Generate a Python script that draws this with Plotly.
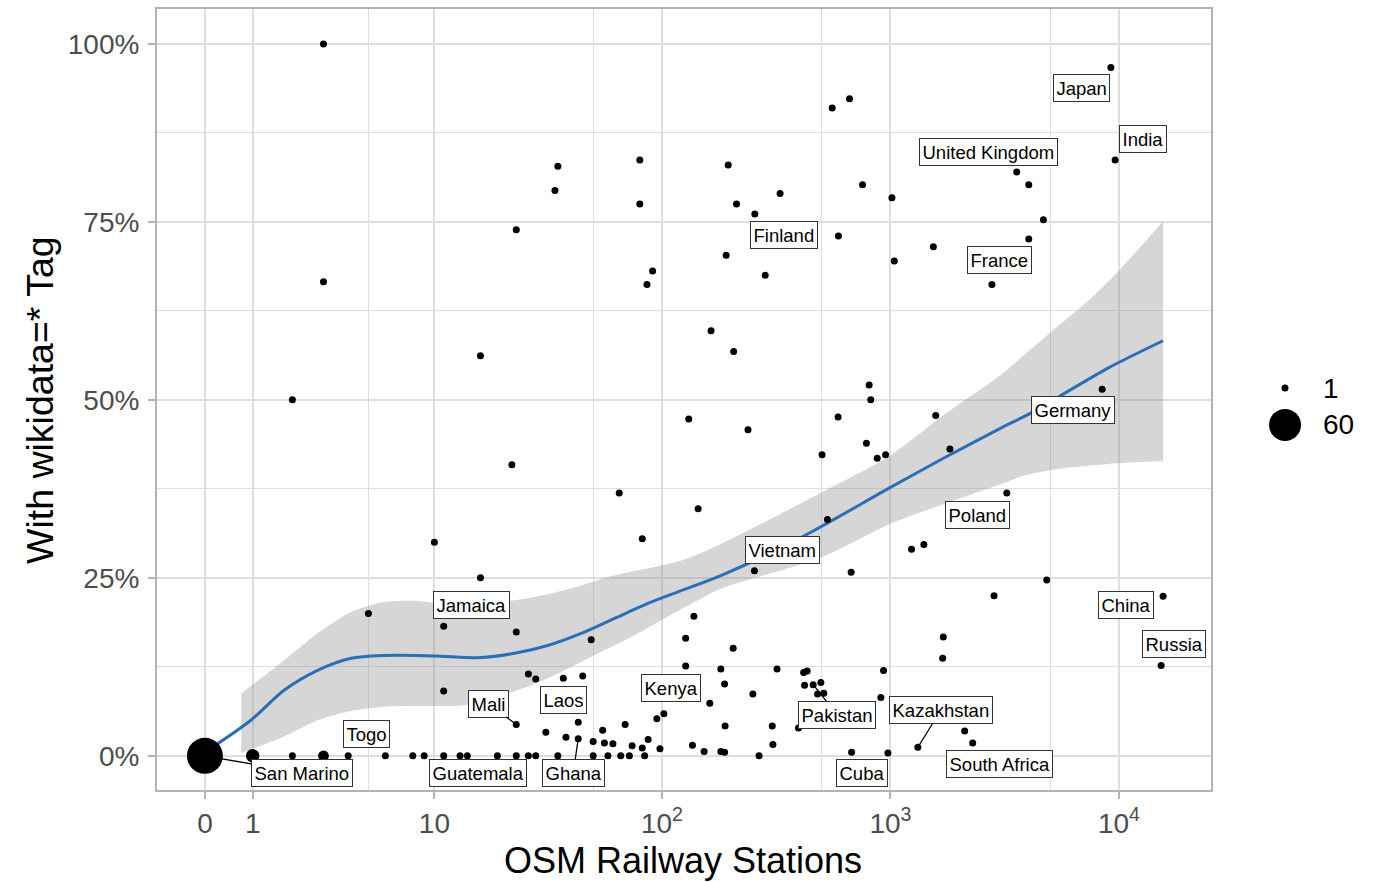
import numpy as np
import plotly.graph_objects as go

# ---------------- data ----------------
stations = [
    0, 1, 2, 3, 4, 6, 8, 9, 11, 13, 14, 19, 23, 26, 28, 35, 50, 58, 66, 72, 84, 266,
    2, 3, 3, 5, 10, 11, 11, 16, 16, 22,
    23, 23, 23, 26, 28, 31, 34, 35, 37, 38,
    43, 43, 45, 49, 50, 55, 56, 61, 65, 69,
    74, 80, 80, 82, 82, 86, 87, 91, 95, 98,
    102, 127, 127, 131, 136, 138, 144, 153, 162, 164,
    181, 181, 188, 188, 189, 191, 195, 205, 206, 212,
    238, 250, 254, 255, 283, 304, 306, 319, 329, 396,
    417, 421, 432, 459, 480, 496, 502, 511, 530, 556,
    590, 592, 662, 673, 676, 755, 785, 807, 820, 875,
    908, 933, 952, 975, 1015, 1040, 1237, 1318, 1400, 1541,
    1578, 1692, 1703, 1820, 2113, 2290, 2780, 2840, 3230, 3570,
    4030, 4030, 4670, 4830, 8440, 9220, 9620, 15300, 15600]

share = [
    0, 0, 0, 0, 0, 0, 0, 0, 0, 0, 0, 0, 0, 0, 0, 0, 0, 0, 0, 0, 0, 0,
    0.50, 1.00, 0.666, 0.20, 0.30, 0.182, 0.091, 0.25, 0.562, 0.409,
    0.739, 0.174, 0.044, 0.115, 0.108, 0.033, 0.794, 0.828, 0.109, 0.026,
    0.047, 0.024, 0.112, 0.163, 0.020, 0.036, 0.018, 0.017, 0.369, 0.044,
    0.014, 0.837, 0.775, 0.305, 0.011, 0.662, 0.023, 0.681, 0.052, 0.010,
    0.059, 0.165, 0.126, 0.473, 0.015, 0.196, 0.347, 0.006, 0.074, 0.597,
    0.122, 0.006, 0.101, 0.005, 0.042, 0.703, 0.830, 0.151, 0.568, 0.775,
    0.458, 0.087, 0.260, 0.761, 0.675, 0.042, 0.016, 0.122, 0.790, 0.039,
    0.117, 0.099, 0.119, 0.100, 0.087, 0.103, 0.423, 0.088, 0.332, 0.910,
    0.476, 0.730, 0.923, 0.258, 0.005, 0.802, 0.439, 0.521, 0.500, 0.418,
    0.082, 0.120, 0.423, 0.004, 0.784, 0.695, 0.290, 0.012, 0.297, 0.715,
    0.478, 0.137, 0.167, 0.431, 0.035, 0.018, 0.662, 0.225, 0.369, 0.820,
    0.802, 0.726, 0.753, 0.247, 0.515, 0.967, 0.837, 0.127, 0.224]

# number of countries stacked on the same spot (geom_count); all others are 1
stacked_stations = [0, 1, 3]
stacked_share = [0, 0, 0]
stacked_counts = [60, 4, 2]

# smoother (loess) and its confidence band
fit_stations = [0, 0.96, 1.77, 2.79, 4.13, 5.91, 8.42, 10.7, 16.1, 22.6, 31.6, 44.3,
                62.0, 86.8, 121.5, 182, 408, 1000, 1730, 3070, 4150, 5430, 9000, 15600]
fit_share = [0.005, 0.050, 0.092, 0.120, 0.137, 0.141, 0.141, 0.140, 0.138, 0.144, 0.155, 0.172,
             0.193, 0.214, 0.232, 0.2535, 0.307, 0.377, 0.419, 0.461, 0.482, 0.504, 0.545, 0.583]

band_up_stations = [0.75, 1.77, 2.79, 4.13, 5.91, 8.42, 10.7, 22.6, 37.4, 62.0, 121.5, 182,
                    499, 1000, 1730, 3070, 3880, 5430, 7600, 9950, 15600]
band_up = [0.088, 0.134, 0.172, 0.202, 0.216, 0.2175, 0.214, 0.2185, 0.2325, 0.2535, 0.2745, 0.298,
           0.370, 0.422, 0.480, 0.536, 0.564, 0.604, 0.6435, 0.681, 0.751]
band_lo_stations = [0.75, 1.77, 2.79, 4.13, 5.91, 8.42, 10.7, 13.6, 19.1, 26.7, 37.4, 52.5,
                    73.3, 102.6, 143.9, 182, 499, 1000, 1730, 3070, 3880, 5430, 9000, 15600]
band_lo = [0.004, 0.027, 0.050, 0.063, 0.069, 0.070, 0.070, 0.071, 0.083, 0.099, 0.120, 0.144,
           0.167, 0.193, 0.2185, 0.235, 0.279, 0.326, 0.354, 0.382, 0.394, 0.403, 0.410, 0.414]

# labelled countries
label_names = ["Japan", "India", "United Kingdom", "Finland", "France", "Germany", "Poland",
               "Vietnam", "Jamaica", "China", "Russia", "Kenya", "Mali", "Laos", "Kazakhstan",
               "Pakistan", "Togo", "South Africa", "San Marino", "Guatemala", "Ghana", "Cuba"]
label_stations = [9220, 9620, 3570, 255, 4030, 8440, 3230, 254, 11, 15600, 15300, 162, 23, 43,
                  1318, 459, 4, 2290, 0, 14, 43, 975]
label_share = [0.967, 0.837, 0.820, 0.761, 0.726, 0.515, 0.369, 0.260, 0.182, 0.224, 0.127,
               0.074, 0.044, 0.047, 0.012, 0.100, 0, 0.018, 0, 0, 0.024, 0.004]

x_breaks = [0, 1, 10, 100, 1000, 10000]
x_labels = ["0", "1", "10", "10<sup>2</sup>", "10<sup>3</sup>", "10<sup>4</sup>"]
x_minor = [5, 50, 500, 5000]
y_breaks = [0, 0.25, 0.5, 0.75, 1.0]
y_labels = ["0%", "25%", "50%", "75%", "100%"]
y_minor = [0.125, 0.375, 0.625, 0.875]
size_breaks = [1, 60]

# ---------------- layout / styles ----------------
# label offsets (pixels, label centre relative to its point) and whether a segment is drawn
label_offsets = {
    "Japan": (-29, 21, False), "India": (28, -21, False), "United Kingdom": (-28, -20, False),
    "Finland": (29, 21, False), "France": (-29, 21, False), "Germany": (-29, 21, False),
    "Poland": (-29, 22, False), "Vietnam": (28, -21, False), "Jamaica": (28, -21, False),
    "China": (-37, 9, False), "Russia": (13, -21, False), "Kenya": (-39, -15, False),
    "Mali": (-28, -21, True), "Laos": (-15, -22, False), "Kazakhstan": (23, -37, True),
    "Pakistan": (24, 30, True), "Togo": (18, -22, False), "South Africa": (27, 21, False),
    "San Marino": (97, 17, True), "Guatemala": (11, 17, False), "Ghana": (-5, 34, True),
    "Cuba": (-26, 20, False),
}

FONT = "Liberation Sans, Arial, Helvetica, sans-serif"
LN10 = np.log(10)


def pseudo_log(x):
    return np.arcsinh(np.asarray(x, dtype=float) / 2.0) / LN10


D1, D60 = 7.0, 36.0


def diam(n):
    n = np.asarray(n, dtype=float)
    return D1 + (D60 - D1) * np.sqrt((n - 1) / 59.0)


counts = []
for s, v in zip(stations, share):
    c = 1
    for ss, sv, sc in zip(stacked_stations, stacked_share, stacked_counts):
        if s == ss and v == sv:
            c = sc
    counts.append(c)

xs = pseudo_log(stations)
fig = go.Figure()

# ribbon: lower edge, then upper edge filled down to it
fig.add_trace(go.Scatter(x=pseudo_log(band_lo_stations), y=band_lo, mode="lines",
                         line=dict(width=0, shape="spline", smoothing=0.8),
                         hoverinfo="skip", showlegend=False))
fig.add_trace(go.Scatter(x=pseudo_log(band_up_stations), y=band_up, mode="lines",
                         fill="tonexty", fillcolor="rgba(153,153,153,0.4)",
                         line=dict(width=0, shape="spline", smoothing=0.8),
                         hoverinfo="skip", showlegend=False))
# smooth line
fig.add_trace(go.Scatter(x=pseudo_log(fit_stations), y=fit_share, mode="lines",
                         line=dict(color="#2A6EB6", width=3, shape="spline", smoothing=0.8),
                         hoverinfo="skip", showlegend=False))
# points (largest first so small ones stay visible)
order = np.argsort(-np.array(counts))
fig.add_trace(go.Scatter(x=xs[order], y=np.array(share)[order], mode="markers",
                         marker=dict(color="black", opacity=1,
                                     size=diam(np.array(counts)[order]),
                                     line=dict(width=0)),
                         showlegend=False))

# page geometry (body margin is removed by the post script, figure fills the window)
W, H = 1375, 882
PANEL_L, PANEL_R, PANEL_T, PANEL_B = 157, 1211, 7, 790
ML, MT, MR, MB = PANEL_L, PANEL_T, W - PANEL_R, H - PANEL_B
pw, ph = PANEL_R - PANEL_L, PANEL_B - PANEL_T


def px_to_paper(px, py):
    return (px - PANEL_L) / pw, (PANEL_B - py) / ph


# labels
for name, st, sh in zip(label_names, label_stations, label_share):
    dx, dy, seg = label_offsets[name]
    fig.add_annotation(x=float(pseudo_log(st)), y=sh, xref="x", yref="y", text=name,
                       showarrow=True, ax=dx, ay=dy, arrowhead=0, arrowwidth=1.3,
                       arrowcolor="black" if seg else "rgba(0,0,0,0)", standoff=0,
                       font=dict(family=FONT, size=18.5, color="black"),
                       bgcolor="white", bordercolor="#333333", borderwidth=1, borderpad=2.5)

# axis ranges (expansion as measured on the reference)
tmax = float(pseudo_log(max(stations)))
xr = [-0.05 * tmax, tmax * 1.05]
yr = [-0.048, 1.049]

# size legend (drawn manually)
leg_y = [387, 424]
leg_d = [7, 32]
for n, ly, d in zip(size_breaks, leg_y, leg_d):
    xp, yp = px_to_paper(1285, ly)
    r = d / 2
    fig.add_shape(type="circle", xref="paper", yref="paper", xsizemode="pixel",
                  ysizemode="pixel", xanchor=xp, yanchor=yp, x0=-r, x1=r, y0=-r, y1=r,
                  fillcolor="black", line=dict(width=0))
    tx, _ = px_to_paper(1321, ly)
    fig.add_annotation(x=tx, y=yp, xref="paper", yref="paper", text=str(n), showarrow=False,
                       xanchor="left", yanchor="middle",
                       font=dict(family=FONT, size=28, color="black"))

# axis titles
xt, yt = px_to_paper(683, 861)
fig.add_annotation(x=xt, y=yt, xref="paper", yref="paper", text="OSM Railway Stations",
                   showarrow=False, xanchor="center", yanchor="middle",
                   font=dict(family=FONT, size=36, color="black"))
xt2, yt2 = px_to_paper(40, 399)
fig.add_annotation(x=xt2, y=yt2, xref="paper", yref="paper", text="With wikidata=* Tag",
                   showarrow=False, textangle=-90, xanchor="center", yanchor="middle",
                   font=dict(family=FONT, size=37.5, color="black"))

grid = "#DEDEDE"
fig.update_layout(
    width=W, height=H, margin=dict(l=ML, r=MR, t=MT, b=MB, pad=0),
    paper_bgcolor="white", plot_bgcolor="white", showlegend=False, hovermode=False,
    xaxis=dict(range=xr, tickmode="array", tickvals=list(pseudo_log(x_breaks)),
               ticktext=x_labels, showgrid=True, gridcolor=grid, gridwidth=1.5,
               minor=dict(tickmode="array", tickvals=list(pseudo_log(x_minor)), showgrid=True,
                          gridcolor=grid, gridwidth=1.2, ticks=""),
               zeroline=False, showline=True, mirror=True, linecolor="#B3B3B3", linewidth=2,
               ticks="outside", ticklen=7, tickwidth=1.5, tickcolor="#B3B3B3",
               ticklabelstandoff=0,
               tickfont=dict(family=FONT, size=28, color="#4D4D4D")),
    yaxis=dict(range=yr, tickmode="array", tickvals=y_breaks, ticktext=y_labels,
               showgrid=True, gridcolor=grid, gridwidth=1.5,
               minor=dict(tickmode="array", tickvals=y_minor, showgrid=True,
                          gridcolor=grid, gridwidth=1.2, ticks=""),
               zeroline=False, showline=True, mirror=True, linecolor="#B3B3B3", linewidth=2,
               ticks="outside", ticklen=7, tickwidth=1.5, tickcolor="#B3B3B3",
               ticklabelstandoff=3,
               tickfont=dict(family=FONT, size=28, color="#4D4D4D")),
)

fig.write_html("out.html", config={"displayModeBar": False},
               post_script="document.body.style.margin='0';"
                           "document.body.style.overflow='hidden';")
